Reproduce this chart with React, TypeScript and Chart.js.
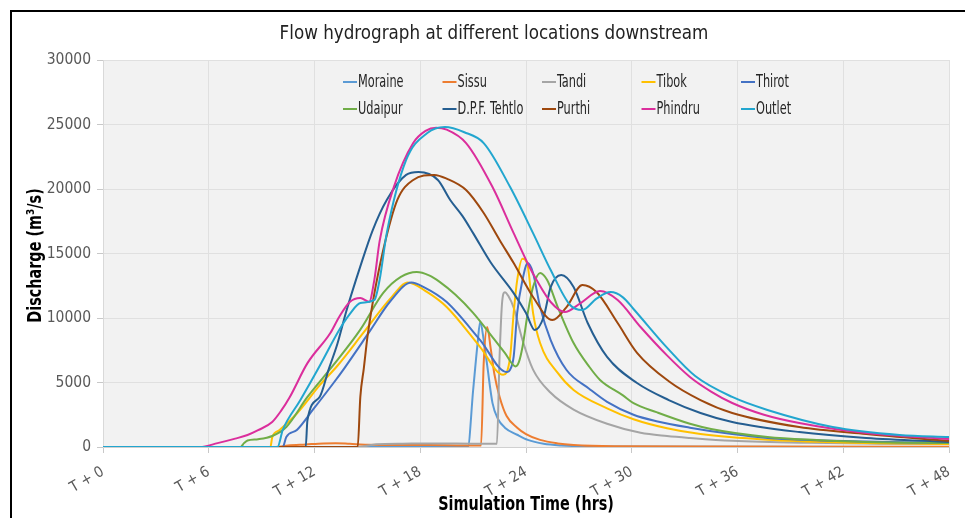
import React, { useEffect, useRef } from 'react';
import { Chart, registerables } from 'chart.js';

Chart.register(...registerables);

const FONT = '"DejaVu Sans Condensed", "DejaVu Sans", sans-serif';

const chartTitle = 'Flow hydrograph at different locations downstream';
const xAxisTitle = 'Simulation Time (hrs)';
const yAxisTitle = 'Discharge (m³/s)';

const timeTickLabels = ['T + 0', 'T + 6', 'T + 12', 'T + 18', 'T + 24', 'T + 30', 'T + 36', 'T + 42', 'T + 48'];
const dischargeTickLabels = ['0', '5000', '10000', '15000', '20000', '25000', '30000'];

const seriesNames = ['Moraine', 'Sissu', 'Tandi', 'Tibok', 'Thirot', 'Udaipur', 'D.P.F. Tehtlo', 'Purthi', 'Phindru', 'Outlet'];
const seriesColors = ['#5B9BD5', '#ED7D31', '#A5A5A5', '#FFC000', '#4472C4', '#70AD47', '#255E91', '#9E480E', '#DB2E9C', '#22A6CF'];

const moraineHours = [0, 20.7, 21.0, 21.25, 21.4, 21.6, 21.8, 22.1, 22.4, 22.8, 23.5, 24.1, 25.0, 26.0, 28.0, 48];
const moraineFlow = [0, 0, 4400, 8000, 9700, 8300, 6300, 3400, 2200, 1500, 950, 550, 250, 120, 40, 0];

const sissuHours = [0, 9.8, 10.5, 11.5, 12.5, 13.2, 14.0, 15.0, 16.5, 18.5, 20.5, 21.45, 21.6, 21.8, 22.0, 22.2, 22.5, 22.9, 23.5, 24.0, 24.8, 25.8, 26.7, 29, 35, 48];
const sissuFlow = [0, 0, 120, 200, 280, 300, 250, 180, 150, 150, 120, 120, 6500, 9300, 7600, 5700, 3900, 2400, 1500, 1000, 550, 280, 160, 60, 30, 20];

const tandiHours = [0, 14.5, 15.5, 17, 19, 21, 22.35, 22.5, 22.65, 22.8, 23.0, 23.3, 23.8, 24.4, 25.4, 26.7, 28.6, 30.5, 32.0, 33.3, 35.7, 40, 44, 48];
const tandiFlow = [0, 0, 220, 260, 280, 260, 260, 7000, 11300, 12000, 11700, 10800, 8300, 6000, 4200, 2900, 1800, 1100, 850, 700, 480, 320, 260, 230];

const tibokHours = [0, 9.5, 9.6, 10.0, 11.0, 12.3, 13.3, 14.8, 16.3, 17.3, 18.4, 19.5, 21.4, 22.7, 23.1, 23.3, 23.5, 23.8, 24.1, 24.4, 24.8, 25.8, 26.7, 28.6, 30.1, 32.0, 33.9, 37.7, 42, 48];
const tibokFlow = [0, 0, 750, 1300, 2600, 4800, 6300, 8900, 11500, 12750, 12000, 10850, 7750, 5600, 6980, 10390, 12940, 14600, 14000, 10400, 8060, 5740, 4420, 3000, 2150, 1450, 1000, 560, 350, 230];

const thirotHours = [0, 10.2, 10.4, 11.0, 11.9, 13.1, 13.7, 15.1, 16.3, 17.5, 18.2, 19.5, 21.4, 22.9, 23.1, 23.3, 23.5, 23.8, 24.1, 24.4, 24.8, 25.4, 26.3, 27.6, 28.6, 30.1, 31.4, 33.3, 35.7, 37.7, 43.3, 48];
const thirotFlow = [0, 0, 780, 1320, 2870, 5000, 6120, 8900, 11300, 12750, 12400, 11240, 8290, 5810, 6000, 7000, 10390, 12940, 14260, 13490, 10850, 8290, 5970, 4500, 3500, 2500, 2000, 1500, 1000, 700, 420, 310];

const udaipurHours = [0, 7.8, 8.0, 8.2, 8.8, 9.6, 10.4, 11.6, 13.1, 14.6, 15.9, 16.9, 17.8, 18.5, 19.1, 20.0, 21.0, 22.0, 22.8, 23.4, 23.6, 23.8, 24.1, 24.4, 24.8, 25.2, 25.8, 26.7, 27.6, 28.2, 29.5, 30.1, 31.4, 33.3, 34.5, 37.7, 40.5, 43.3, 48];
const udaipurFlow = [0, 0, 300, 500, 600, 850, 1550, 3880, 6400, 9100, 11940, 13180, 13560, 13300, 12800, 11800, 10400, 8700, 7300, 6250, 6600, 7750, 10390, 12400, 13490, 12940, 10850, 8060, 6200, 5200, 4000, 3400, 2700, 1800, 1400, 775, 540, 390, 310];

const dpfHours = [0, 11.5, 11.6, 12.3, 12.8, 13.3, 13.8, 14.6, 15.3, 16.1, 17.2, 17.9, 19.0, 19.7, 20.4, 21.0, 22.0, 23.3, 24.0, 24.5, 25.0, 25.4, 26.0, 26.7, 27.5, 28.6, 30.3, 32.1, 33.9, 35.7, 39.5, 43.3, 48];
const dpfFlow = [0, 0, 2090, 3900, 6000, 8000, 10500, 14000, 16800, 19150, 21090, 21310, 20700, 19150, 17900, 16580, 14300, 11930, 10390, 9070, 10080, 12400, 13330, 12400, 9610, 6980, 4960, 3640, 2640, 1940, 1160, 700, 390];

const purthiHours = [0, 14.45, 14.6, 14.8, 15.0, 15.3, 15.9, 16.7, 17.6, 18.8, 19.5, 20.6, 21.6, 22.5, 23.3, 24.4, 25.5, 26.3, 27.2, 28.0, 29.2, 30.3, 32.1, 33.9, 35.7, 39.5, 43.3, 48];
const purthiFlow = [0, 0, 3880, 6120, 8500, 11160, 15270, 19150, 20700, 21090, 20800, 19920, 18140, 16050, 14260, 11630, 9840, 10850, 12560, 12010, 9610, 7300, 5100, 3640, 2640, 1550, 1010, 470];

const phindruHours = [0, 5.5, 6.5, 7.5, 8.2, 8.8, 9.6, 10.1, 10.6, 11.6, 12.9, 13.4, 14.0, 14.6, 15.1, 15.4, 15.7, 16.5, 17.6, 18.3, 18.9, 19.5, 20.6, 22.1, 23.3, 24.2, 24.6, 25.4, 26.2, 27.1, 28.2, 29.2, 30.5, 32.0, 33.3, 34.5, 35.7, 37.5, 39.5, 43.3, 48];
const phindruFlow = [0, 0, 300, 650, 930, 1300, 1940, 2800, 3880, 6500, 8840, 10080, 11240, 11550, 11250, 13000, 16000, 20150, 23560, 24500, 24750, 24600, 23560, 20150, 16580, 13950, 12940, 11240, 10460, 11160, 12090, 11390, 9300, 7100, 5430, 4300, 3410, 2500, 1860, 1085, 620];

const outletHours = [0, 9.9, 10.2, 11.2, 12.3, 13.4, 14.0, 14.6, 15.4, 15.7, 16.1, 17.2, 18.4, 19.4, 20.5, 21.6, 23.1, 24.4, 25.4, 26.5, 27.2, 28.0, 28.8, 29.5, 30.1, 32.0, 33.6, 35.7, 37.7, 41.4, 45.2, 48];
const outletFlow = [0, 0, 1320, 3640, 6300, 9070, 10300, 11160, 11400, 13000, 16580, 22250, 24340, 24800, 24400, 23560, 20150, 16580, 13720, 11010, 10620, 11500, 12010, 11600, 10700, 7700, 5500, 3880, 2870, 1550, 930, 775];

const seriesHours = [moraineHours, sissuHours, tandiHours, tibokHours, thirotHours, udaipurHours, dpfHours, purthiHours, phindruHours, outletHours];
const seriesFlow = [moraineFlow, sissuFlow, tandiFlow, tibokFlow, thirotFlow, udaipurFlow, dpfFlow, purthiFlow, phindruFlow, outletFlow];

function drawLabel(
  ctx: CanvasRenderingContext2D,
  text: string,
  x: number,
  y: number,
  font: string,
  color: string,
  scaleX: number,
  align: CanvasTextAlign,
  angle = 0,
) {
  ctx.save();
  ctx.translate(x, y);
  if (angle) ctx.rotate(angle);
  ctx.scale(scaleX, 1);
  ctx.font = font;
  ctx.fillStyle = color;
  ctx.textAlign = align;
  ctx.textBaseline = 'middle';
  ctx.fillText(text, 0, 0);
  ctx.restore();
}

const plotBackground = {
  id: 'plotBackground',
  beforeDraw(chart: any) {
    const { ctx, chartArea: a } = chart;
    ctx.save();
    ctx.fillStyle = '#f2f2f2';
    ctx.fillRect(a.left, a.top, a.right - a.left, a.bottom - a.top);
    ctx.restore();
  },
};

const titlesAndLegend = {
  id: 'titlesAndLegend',
  afterDraw(chart: any) {
    const { ctx, chartArea: a } = chart;
    drawLabel(ctx, chartTitle, 494, 34, `19px ${FONT}`, '#222222', 0.98, 'center');
    const midX = (a.left + a.right) / 2;
    const midY = (a.top + a.bottom) / 2;
    drawLabel(ctx, xAxisTitle, midX, 505, `bold 20px ${FONT}`, '#000000', 0.8, 'center');
    drawLabel(ctx, yAxisTitle, 36, midY + 2, `bold 20px ${FONT}`, '#000000', 0.8, 'center', -Math.PI / 2);
    chart.data.datasets.forEach((ds: any, i: number) => {
      const col = i % 5;
      const row = Math.floor(i / 5);
      const x = 343 + col * 99.5;
      const y = 82 + row * 27;
      ctx.save();
      ctx.strokeStyle = ds.borderColor;
      ctx.lineWidth = 2;
      ctx.beginPath();
      ctx.moveTo(x, y);
      ctx.lineTo(x + 14, y);
      ctx.stroke();
      ctx.restore();
      drawLabel(ctx, ds.label, x + 15, y + 1, `17px ${FONT}`, '#262626', 0.74, 'left');
    });
  },
};

export default function App() {
  const canvasRef = useRef<HTMLCanvasElement>(null);

  useEffect(() => {
    document.body.style.margin = '0';
    const canvas = canvasRef.current;
    if (!canvas) return;
    const datasets = seriesNames.map((name, i) => ({
      label: name,
      data: seriesHours[i].map((h, j) => ({ x: h, y: seriesFlow[i][j] })),
      borderColor: seriesColors[i],
      backgroundColor: seriesColors[i],
      borderWidth: 2,
      pointRadius: 0,
      fill: false,
      cubicInterpolationMode: 'monotone' as const,
      order: seriesNames.length - i,
    }));
    const chart = new Chart(canvas, {
      type: 'line',
      data: { datasets },
      options: {
        responsive: false,
        animation: false,
        devicePixelRatio: 1,
        layout: { padding: { left: 0, right: 16, top: 60, bottom: 0 } },
        plugins: {
          legend: { display: false },
          title: { display: false },
          tooltip: { enabled: false },
        },
        scales: {
          x: {
            type: 'linear',
            min: 0,
            max: 48,
            afterFit: (s: any) => {
              s.height = 71;
              s.paddingLeft = 0;
              s.paddingRight = 0;
            },
            afterBuildTicks: (s: any) => {
              s.ticks = timeTickLabels.map((_, i) => ({ value: i * 6 }));
            },
            ticks: {
              callback: (_v: any, idx: number) => timeTickLabels[idx],
              maxRotation: 30,
              minRotation: 30,
              autoSkip: false,
              color: '#595959',
              padding: 10,
              font: { family: FONT, size: 15 },
            },
            grid: { color: '#e0e0e0', tickColor: '#c8c8c8', tickLength: 6 },
            border: { color: '#d0d0d0' },
          },
          y: {
            type: 'linear',
            min: 0,
            max: 30000,
            afterFit: (s: any) => {
              s.width = 103;
              s.paddingTop = 0;
              s.paddingBottom = 0;
            },
            afterBuildTicks: (s: any) => {
              s.ticks = dischargeTickLabels.map((_, i) => ({ value: i * 5000 }));
            },
            ticks: {
              callback: (_v: any, idx: number) => dischargeTickLabels[idx],
              color: '#595959',
              padding: 6,
              font: { family: FONT, size: 15.5 },
            },
            grid: { color: '#e0e0e0', tickColor: '#c8c8c8', tickLength: 6 },
            border: { color: '#d9d9d9' },
          },
        },
      },
      plugins: [plotBackground, titlesAndLegend],
    });
    return () => chart.destroy();
  }, []);

  return (
    <div style={{ position: 'relative', width: 965, height: 518, background: '#ffffff', overflow: 'hidden' }}>
      <div style={{ position: 'absolute', left: 10, top: 10, width: 1000, height: 600, border: '2px solid #000', boxSizing: 'border-box' }} />
      <canvas ref={canvasRef} width={965} height={518} style={{ position: 'absolute', left: 0, top: 0, width: 965, height: 518 }} />
    </div>
  );
}
